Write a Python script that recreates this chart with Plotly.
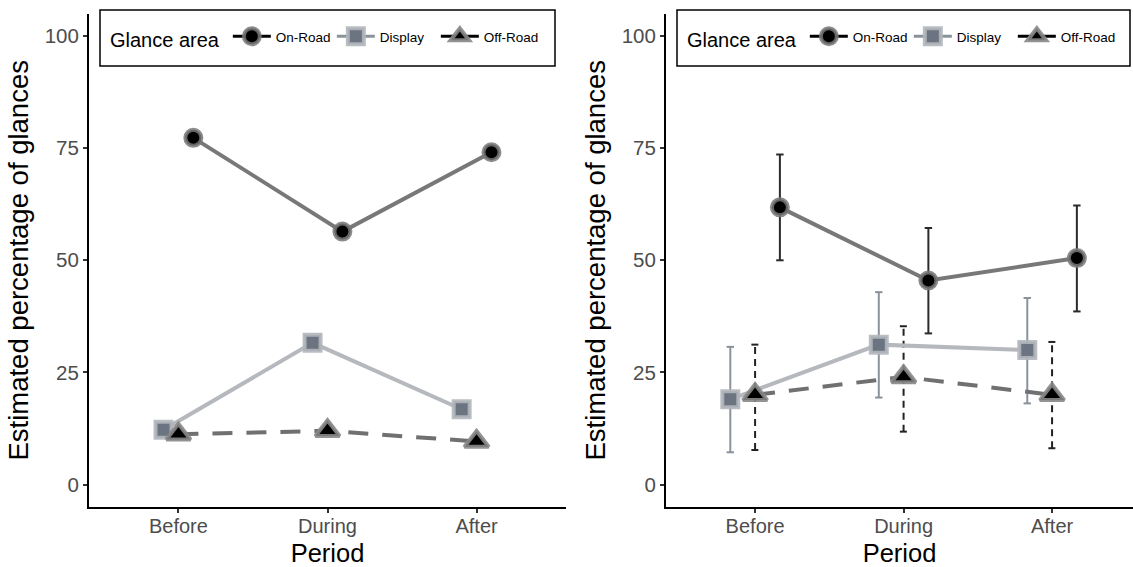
import plotly.graph_objects as go

# ---------------- data ----------------
periods = ["Before", "During", "After"]
areas = ["On-Road", "Display", "Off-Road"]

# Left panel: observed percentages
left_onroad = [77.3, 56.4, 74.1]
left_display = [12.2, 31.6, 16.8]
left_offroad = [11.2, 12.0, 9.6]

# Right panel: model estimates with intervals
right_onroad = [61.8, 45.5, 50.5]
right_onroad_lo = [50.0, 33.7, 38.6]
right_onroad_hi = [73.6, 57.2, 62.2]

right_display = [19.0, 31.2, 30.0]
right_display_lo = [7.2, 19.4, 18.1]
right_display_hi = [30.7, 42.9, 41.6]

right_offroad = [20.0, 24.0, 20.0]
right_offroad_lo = [7.7, 11.8, 8.1]
right_offroad_hi = [31.2, 35.3, 31.8]

y_ticks = [0, 25, 50, 75, 100]

# ---------------- styles ----------------
FONT = "Arial, Liberation Sans, sans-serif"
W, H = 1133, 567
styles = {
    "On-Road": dict(line=dict(color="#787878", width=4),
                    marker=dict(symbol="circle", size=16, color="black",
                                line=dict(color="rgba(120,120,120,0.85)", width=4)),
                    err=dict(color="#2b2b2b", width=2, dash="solid"),
                    key_line="black"),
    "Display": dict(line=dict(color="#b5b9bd", width=4),
                    marker=dict(symbol="square", size=16, color="#6b7480",
                                line=dict(color="rgba(178,183,188,0.9)", width=4)),
                    err=dict(color="#8a939b", width=2, dash="solid"),
                    key_line="#8a939b"),
    "Off-Road": dict(line=dict(color="#707070", width=4, dash="20px,14px"),
                     marker=dict(symbol="triangle-up", size=21, color="black",
                                 line=dict(color="rgba(135,135,135,0.9)", width=4)),
                     err=dict(color="#222222", width=2, dash="7px,5px"),
                     key_line="black"),
}
offsets_left = {"Display": -0.1, "Off-Road": 0.0, "On-Road": 0.1}
offsets_right = {"Display": -0.167, "Off-Road": 0.0, "On-Road": 0.167}
cap = 0.025

fig = go.Figure()

def positions(offset):
    return [i + 1 + offset for i in range(len(periods))]

def add_errorbars(name, ys_lo, ys_hi, offset, xa, ya):
    xs, ys = [], []
    for x, lo, hi in zip(positions(offset), ys_lo, ys_hi):
        xs += [x, x, None, x - cap, x + cap, None, x - cap, x + cap, None]
        ys += [lo, hi, None, lo, lo, None, hi, hi, None]
    st = styles[name]["err"]
    fig.add_trace(go.Scatter(x=xs, y=ys, mode="lines", xaxis=xa, yaxis=ya,
                             line=dict(color=st["color"], width=st["width"], dash=st["dash"]),
                             showlegend=False, hoverinfo="skip"))

def add_series(name, vals, offset, xa, ya, mode):
    st = styles[name]
    if mode == "lines":
        fig.add_trace(go.Scatter(x=positions(offset), y=vals, mode="lines",
                                 xaxis=xa, yaxis=ya, line=st["line"],
                                 showlegend=False, name=name))
    else:
        fig.add_trace(go.Scatter(x=positions(offset), y=vals, mode="markers",
                                 xaxis=xa, yaxis=ya, marker=st["marker"],
                                 showlegend=False, name=name))

left = {"On-Road": left_onroad, "Display": left_display, "Off-Road": left_offroad}
right = {"On-Road": right_onroad, "Display": right_display, "Off-Road": right_offroad}
right_lo = {"On-Road": right_onroad_lo, "Display": right_display_lo, "Off-Road": right_offroad_lo}
right_hi = {"On-Road": right_onroad_hi, "Display": right_display_hi, "Off-Road": right_offroad_hi}

# right panel error bars
for a in ["Display", "Off-Road", "On-Road"]:
    add_errorbars(a, right_lo[a], right_hi[a], offsets_right[a], "x2", "y2")

for a in ["On-Road", "Display", "Off-Road"]:
    add_series(a, left[a], offsets_left[a], "x", "y", "lines")
    add_series(a, right[a], offsets_right[a], "x2", "y2", "lines")
for a in ["Display", "On-Road", "Off-Road"]:
    add_series(a, left[a], offsets_left[a], "x", "y", "markers")
    add_series(a, right[a], offsets_right[a], "x2", "y2", "markers")

# legend-only traces
for lg in ["legend", "legend2"]:
    for a in areas:
        st = styles[a]
        fig.add_trace(go.Scatter(x=[None], y=[None], mode="lines+markers", name=a,
                                 line=dict(color=st["key_line"], width=3),
                                 marker=st["marker"], legend=lg, showlegend=True))

x1_dom = [89 / W, 566 / W]
x2_dom = [666 / W, 1.0]
y_dom = [1 - 507 / H, 1 - 13.6 / H]

axis_common = dict(showline=True, linecolor="black", linewidth=2, ticks="outside",
                   ticklen=4, tickwidth=1.5, tickcolor="#333333", showgrid=False,
                   zeroline=False, tickfont=dict(family=FONT, size=20.5, color="#4d4d4d"),
                   automargin=False)

xax = dict(axis_common, tickvals=[1, 2, 3], ticktext=periods,
           tickfont=dict(family=FONT, size=20, color="#4d4d4d"), ticklabelstandoff=-4,
           title=dict(text="Period", font=dict(family=FONT, size=25.5, color="black"), standoff=12))
yax = dict(axis_common, range=[-5, 105], tickvals=y_ticks, domain=y_dom,
           title=dict(text="Estimated percentage of glances",
                      font=dict(family=FONT, size=27.5, color="black"), standoff=8))

legend_common = dict(orientation="h", xanchor="left", yanchor="middle",
                     y=1 - 39 / H, bgcolor="rgba(0,0,0,0)", borderwidth=0,
                     itemwidth=38, itemsizing="trace", entrywidth=51,
                     title=dict(text="Glance area", side="left",
                                font=dict(family=FONT, size=20, color="black")),
                     font=dict(family=FONT, size=13.5, color="black"))

fig.update_layout(
    width=W, height=H,
    margin=dict(l=0, r=0, t=0, b=0, autoexpand=False),
    paper_bgcolor="white", plot_bgcolor="white",
    showlegend=True,
    xaxis=dict(xax, domain=x1_dom, range=[0.4, 3.6], anchor="y"),
    yaxis=dict(yax, anchor="x"),
    xaxis2=dict(xax, domain=x2_dom, range=[0.4, 3.545], anchor="y2"),
    yaxis2=dict(yax, anchor="x2"),
    legend=dict(legend_common, x=108 / W),
    legend2=dict(legend_common, x=685 / W),
    shapes=[
        dict(type="rect", xref="paper", yref="paper", layer="above",
             x0=100 / W, x1=555 / W, y0=1 - 66 / H, y1=1 - 10 / H,
             line=dict(color="black", width=1.5), fillcolor="rgba(255,255,255,0)"),
        dict(type="rect", xref="paper", yref="paper", layer="above",
             x0=677 / W, x1=1130 / W, y0=1 - 66 / H, y1=1 - 10 / H,
             line=dict(color="black", width=1.5), fillcolor="rgba(255,255,255,0)"),
    ],
)

fig.write_html("out.html", config={"displayModeBar": False},
               post_script="document.body.style.margin='0px';")
